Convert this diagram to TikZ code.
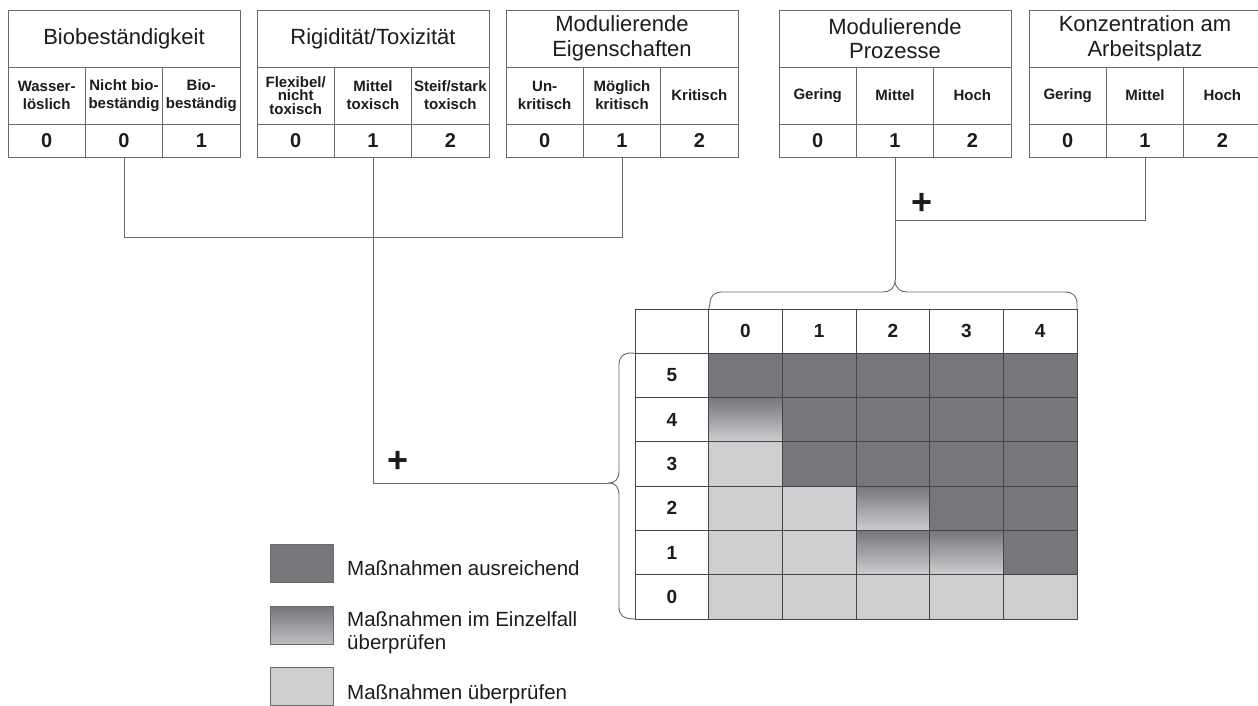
\documentclass[tikz,border=0pt]{standalone}
\usepackage{fontspec}
\setmainfont{Liberation Sans}
\definecolor{dk}{RGB}{118,119,123}
\definecolor{lt}{RGB}{205,206,208}
\definecolor{lgr}{RGB}{190,191,193}
\definecolor{lc}{RGB}{105,105,105}
\definecolor{gl}{RGB}{70,70,70}
\definecolor{tx}{RGB}{28,28,28}
\newcommand\mkcell[7]{%
  \pgfmathsetmacro\mycw{#4-#2}\pgfmathsetmacro\mych{#5-#3}%
  \node[tcell,#6,minimum width=\mycw pt,minimum height=\mych pt] (#1) at ({(#2+#4)/2},{(#3+#5)/2}) {#7};}
\newcommand\mktable[8]{%
  \pgfmathsetmacro\myxa{#2+#3}\pgfmathsetmacro\myxb{#2+2*#3}\pgfmathsetmacro\myxr{#2+3*#3}%
  \mkcell{#1h}{#2}{10}{\myxr}{67}{hfont}{#4}%
  \mkcell{#1s0}{#2}{67}{\myxa}{124}{sfont}{#5}%
  \mkcell{#1s1}{\myxa}{67}{\myxb}{124}{sfont}{#6}%
  \mkcell{#1s2}{\myxb}{67}{\myxr}{124}{sfont}{#7}%
  \foreach \vv [count=\ii from 0] in {#8} {%
    \pgfmathsetmacro\myxc{#2+\ii*#3}\pgfmathsetmacro\myxd{#2+(\ii+1)*#3}%
    \mkcell{#1v\ii}{\myxc}{124}{\myxd}{157}{vfont}{\vv}}%
}
\begin{document}
\begin{tikzpicture}[x=1pt,y=-1pt,
  tcell/.style={draw=lc,line width=0.9pt,inner sep=0pt,outer sep=0pt,fill=white,align=center,text=tx},
  hfont/.style={font=\fontsize{22}{24.5}\selectfont},
  sfont/.style={font=\fontsize{15}{18}\selectfont\bfseries},
  vfont/.style={font=\fontsize{20}{24}\selectfont\bfseries},
  gcell/.style={draw=gl,line width=0.8pt,font=\fontsize{19}{22}\selectfont\bfseries},
  cD/.style={gcell,fill=dk},
  cL/.style={gcell,fill=lt},
  cG/.style={gcell,top color=dk,bottom color=lt},
  conn/.style={draw=lc,line width=0.9pt},
  lbox/.style={draw=lc,line width=0.9pt,minimum width=63pt,minimum height=38pt,inner sep=0pt},
  lfont/.style={font=\fontsize{20.5}{23}\selectfont,text=tx,inner sep=0pt,align=left},
  plus/.style={font=\fontsize{36}{36}\selectfont\bfseries,text=tx,inner sep=0pt}
]
\useasboundingbox (0,0) rectangle (1258,705);

% ---------- top tables ----------
\mktable{ta}{8}{77.33}{Biobeständigkeit}{Wasser-\\löslich}{Nicht bio-\\beständig}{Bio-\\beständig}{0,0,1}
\mktable{tb}{257}{77.33}{Rigidität/Toxizität}{Flexibel/\\[-4.5pt]nicht\\[-4.5pt]toxisch}{Mittel\\toxisch}{Steif/stark\\toxisch}{0,1,2}
\mktable{tc}{506}{77.33}{Modulierende\\Eigenschaften}{Un-\\kritisch}{Möglich\\kritisch}{Kritisch}{0,1,2}
\mktable{td}{779}{77.33}{Modulierende\\Prozesse}{Gering}{Mittel}{Hoch}{0,1,2}
\mktable{te}{1029}{77.33}{Konzentration am\\Arbeitsplatz}{Gering}{Mittel}{Hoch}{0,1,2}

% ---------- matrix ----------
\mkcell{gc}{635}{309}{709}{353}{gcell}{}
\foreach \c in {0,...,4} {%
  \pgfmathsetmacro\gxa{635+(\c+1)*73.667}\pgfmathsetmacro\gxb{635+(\c+2)*73.667}%
  \mkcell{gh\c}{\gxa}{309}{\gxb}{353}{gcell}{\c}}
\foreach \r in {5,...,0} {%
  \pgfmathsetmacro\gya{309+(6-\r)*44.286}\pgfmathsetmacro\gyb{309+(7-\r)*44.286}%
  \mkcell{gr\r}{635}{\gya}{709}{\gyb}{gcell}{\r}}
\foreach \r/\c/\t in {5/0/cD,5/1/cD,5/2/cD,5/3/cD,5/4/cD,
                      4/0/cG,4/1/cD,4/2/cD,4/3/cD,4/4/cD,
                      3/0/cL,3/1/cD,3/2/cD,3/3/cD,3/4/cD,
                      2/0/cL,2/1/cL,2/2/cG,2/3/cD,2/4/cD,
                      1/0/cL,1/1/cL,1/2/cG,1/3/cG,1/4/cD,
                      0/0/cL,0/1/cL,0/2/cL,0/3/cL,0/4/cL} {%
  \pgfmathsetmacro\gxa{635+(\c+1)*73.667}\pgfmathsetmacro\gxb{635+(\c+2)*73.667}%
  \pgfmathsetmacro\gya{309+(6-\r)*44.286}\pgfmathsetmacro\gyb{309+(7-\r)*44.286}%
  \mkcell{g\r-\c}{\gxa}{\gya}{\gxb}{\gyb}{\t}{}}

% ---------- braces ----------
\coordinate (tbt) at (895,280);
\coordinate (lbt) at (609,483);
\draw[conn] (gh0.north west) -- (710,304) .. controls (710,296) and (714,292) .. (722,292)
  -- (883,292) .. controls (890,292) and (895,288) .. (tbt)
  .. controls (895,288) and (900,292) .. (907,292)
  -- (1065,292) .. controls (1073,292) and (1077,296) .. (1077,304) -- (gh4.north east);
\draw[conn] (gr5.north west) -- (631,353) .. controls (623,353) and (619,357) .. (619,365)
  -- (619,471) .. controls (619,479) and (615,483) .. (lbt)
  .. controls (615,483) and (619,487) .. (619,495)
  -- (619,607) .. controls (619,615) and (623,619) .. (gr0.south west);

% ---------- connectors ----------
\coordinate (j1) at (372,237);
\coordinate (j2) at (895,220);
\draw[conn] (tav1.south) -- (tav1.south |- j1) -- (tcv1.south |- j1) -- (tcv1.south);
\draw[conn] (tbv1.south) -- (tbv1.south |- lbt) -- (lbt);
\draw[conn] (tdv1.south) -- (tdv1.south |- tbt);
\draw[conn] (tev1.south) -- (tev1.south |- j2) -- (tdv1.south |- j2);
\node[plus] (p1) at (922,204) {+};
\node[plus] (p2) at (398,462) {+};

% ---------- legend ----------
\node[lbox,fill=dk] (lb1) at (301.5,563) {};
\node[lbox,top color=dk,bottom color=lgr] (lb2) at (301.5,625.5) {};
\node[lbox,fill=lt] (lb3) at (301.5,686.5) {};
\node[lfont,anchor=base west] (lt1) at (347,575) {Maßnahmen ausreichend};
\node[lfont,anchor=north west] (lt2) at (347,611) {Maßnahmen im Einzelfall\\überprüfen};
\node[lfont,anchor=base west] (lt3) at (347,699) {Maßnahmen überprüfen};
\end{tikzpicture}
\end{document}
